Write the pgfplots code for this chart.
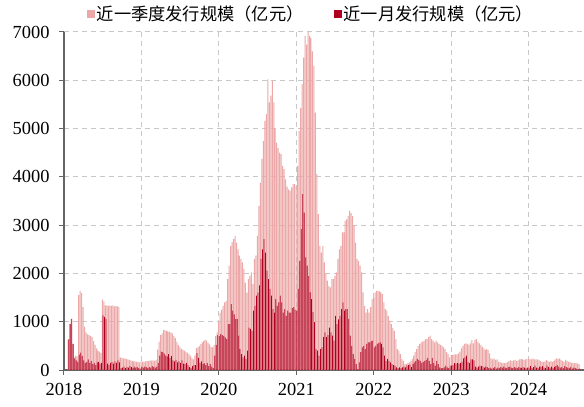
\documentclass[border=0pt]{standalone}
\usepackage{fontspec}
\setmainfont{Liberation Serif}
\newfontfamily\cjk{Noto Sans CJK SC}
\usepackage{pgfplots}
\usepackage{pgfplotstable}
\pgfplotsset{compat=1.18}
\definecolor{qpink}{RGB}{236,168,168}
\definecolor{mred}{RGB}{176,0,32}
\definecolor{gridgray}{RGB}{200,200,200}
\definecolor{axisgray}{RGB}{100,100,100}

\pgfplotstableread{
w q m
3 635 635
4 950 950
5 1060 1060
6 540 540
7 260 240
8 300 200
9 280 170
10 1550 320
11 1640 360
12 1590 290
13 1300 200
14 900 150
15 780 170
16 740 220
17 720 150
18 700 190
19 680 120
20 600 150
21 520 100
22 450 160
23 400 170
24 380 130
25 350 150
26 1460 1130
27 1420 1100
28 1340 1060
29 1340 130
30 1330 100
31 1340 150
32 1330 170
33 1340 130
34 1320 180
35 1330 150
36 1320 200
37 1300 160
38 260 40
39 250 50
40 240 70
41 240 40
42 230 60
43 220 50
44 210 80
45 200 60
46 190 40
47 180 70
48 180 50
49 170 60
50 170 40
51 160 30
}\dA

\pgfplotstableread{
w q m
0 180 60
1 175 50
2 170 70
3 180 60
4 190 40
5 185 60
6 200 50
7 195 80
8 200 60
9 190 50
10 210 70
11 420 150
12 590 300
13 720 380
14 760 370
15 830 340
16 820 300
17 810 280
18 800 330
19 790 250
20 780 290
21 760 200
22 700 180
23 660 210
24 590 160
25 520 180
26 480 140
27 440 200
28 420 130
29 400 120
30 380 150
31 360 100
32 330 60
33 300 40
34 250 80
35 220 100
36 300 100
37 460 350
38 470 250
39 500 150
40 540 180
41 570 120
42 600 140
43 630 100
44 610 150
45 560 80
46 530 120
47 480 70
48 470 40
49 520 300
50 700 520
51 780 720
}\dB

\pgfplotstableread{
w q m
0 1000 700
1 1190 745
2 1250 720
3 1330 700
4 1400 675
5 1430 640
6 1880 950
7 2160 950
8 2570 1365
9 2650 1230
10 2710 1150
11 2780 1055
12 2640 1060
13 2500 710
14 2370 430
15 2300 330
16 2230 260
17 2100 300
18 1810 230
19 1600 400
20 1880 880
21 1950 850
22 2020 810
23 1780 1230
24 2300 1330
25 2370 1540
26 2780 1600
27 3400 1750
28 3880 2300
29 4370 2500
30 4740 2710
31 5160 2430
32 5300 2060
33 6020 1880
34 5540 1680
35 5680 1540
36 5990 1260
37 5540 1190
38 5000 1470
39 4710 1330
40 4600 1400
41 4500 1540
42 4470 1400
43 4230 1190
44 4160 1260
45 3950 1120
46 3800 1230
47 3740 1190
48 3710 1190
49 3780 1280
50 3850 1300
51 3850 1250
}\dC

\pgfplotstableread{
w q m
0 3810 1230
1 4230 1680
2 4950 2260
3 5430 2920
4 5920 3640
5 6470 3260
6 6920 2330
7 6740 2160
8 7000 1950
9 6920 1610
10 6880 1470
11 6600 1200
12 6300 990
13 5330 430
14 4060 400
15 3230 300
16 2570 430
17 2430 470
18 2570 680
19 2230 780
20 2000 680
21 1850 720
22 1740 880
23 1710 780
24 1880 710
25 1880 610
26 1950 1120
27 2020 950
28 2300 1050
29 2500 1120
30 2570 1260
31 2850 1400
32 2850 1230
33 3090 1260
34 3120 1260
35 3190 1060
36 3300 710
37 3250 500
38 3190 330
39 2990 230
40 2640 120
41 2300 20
42 2260 160
43 2160 370
44 2020 470
45 1610 500
46 1330 430
47 1190 540
48 1260 570
49 1190 570
50 1300 600
51 1470 610
}\dD

\pgfplotstableread{
w q m
0 1500 470
1 1610 500
2 1640 540
3 1640 560
4 1630 570
5 1610 540
6 1570 470
7 1400 300
8 1260 190
9 1230 230
10 1120 190
11 1020 160
12 950 120
13 870 100
14 810 90
15 640 55
16 430 40
17 400 55
18 330 40
19 230 55
20 190 70
21 120 55
22 120 90
23 140 100
24 160 110
25 190 60
26 230 120
27 300 160
28 370 190
29 430 230
30 500 210
31 540 190
32 570 150
33 590 170
34 610 190
35 640 210
36 640 250
37 680 190
38 710 120
39 640 250
40 610 150
41 570 90
42 610 190
43 570 120
44 540 55
45 520 40
46 500 40
47 470 55
48 430 90
49 370 55
50 330 40
51 260 90
}\dE

\pgfplotstableread{
w q m
0 310 90
1 310 100
2 320 140
3 325 130
4 325 150
5 345 130
6 380 140
7 450 170
8 500 240
9 540 260
10 550 300
11 540 170
12 520 140
13 550 220
14 620 220
15 550 200
16 620 70
17 640 50
18 590 70
19 550 90
20 520 80
21 480 70
22 450 50
23 415 70
24 430 60
25 415 40
26 345 50
27 240 30
28 220 40
29 240 60
30 210 30
31 220 50
32 170 40
33 170 60
34 150 50
35 150 70
36 140 50
37 150 40
38 170 60
39 190 70
40 200 50
41 190 40
42 200 60
43 210 50
44 190 40
45 200 60
46 220 50
47 230 40
48 220 60
49 210 50
50 220 40
51 230 50
}\dF

\pgfplotstableread{
w q m
0 240 50
1 225 80
2 220 40
3 240 60
4 220 90
5 220 50
6 220 40
7 210 70
8 190 60
9 170 80
10 170 50
11 180 40
12 210 90
13 190 60
14 170 50
15 190 70
16 170 40
17 190 60
18 220 80
19 240 100
20 225 70
21 240 50
22 210 60
23 190 40
24 170 80
25 210 60
26 190 50
27 170 40
28 170 60
29 150 30
30 150 50
31 140 40
32 140 30
33 130 20
34 120 30
}\dG

\pgfplotsset{
  qbar/.style={ybar, bar width=1.0bp, bar shift=-0.25bp, fill=qpink, draw=none},
  mbar/.style={ybar, bar width=0.75bp, bar shift=0.37bp, fill=mred, draw=none},
}

\begin{document}
\begin{tikzpicture}
\path[use as bounding box] (-64bp,-37bp) rectangle (520bp,370bp);
\begin{axis}[
  at={(0,0)}, anchor=south west,
  scale only axis, width=520bp, height=338bp,
  xmin=2018, xmax=2024.714, ymin=0, ymax=7000,
  enlargelimits=false,
  xtick={2018,2019,...,2024},
  ytick={0,1000,...,7000},
  axis x line=bottom, axis y line=left,
  axis line style={-, draw=axisgray, line width=1.2bp},
  tick align=outside, major tick length=5bp,
  tick style={draw=axisgray, line width=1bp},
  xmajorgrids, ymajorgrids,
  major grid style={draw=gridgray, line width=1bp, dash pattern=on 5bp off 4bp},
  ticklabel style={font=\fontsize{18.5}{20}\selectfont},
  yticklabel style={xshift=-6bp},
  xticklabel style={yshift=-5bp},
  /pgf/number format/assume math mode=true,
  /pgf/number format/1000 sep={},
  legend columns=2,
  legend cell align=left,
  legend style={at={(0.475,1.053)}, anchor=center, draw=none, fill=none,
    font=\cjk\fontsize{17.3}{19}\selectfont,
    /tikz/every even column/.append style={column sep=28bp}},
]
\addplot[qbar, legend image code/.code={\fill[qpink] (0bp,-4bp) rectangle (8bp,4bp);}]
  table[x expr=2018+\thisrow{w}/52, y=q]{\dA};
\addlegendentry{近一季度发行规模（亿元）}
\addplot[mbar, legend image code/.code={\fill[mred] (0bp,-4bp) rectangle (8bp,4bp);}]
  table[x expr=2018+\thisrow{w}/52, y=m]{\dA};
\addlegendentry{近一月发行规模（亿元）}
\addplot[qbar, forget plot] table[x expr=2019+\thisrow{w}/52, y=q]{\dB};
\addplot[mbar, forget plot] table[x expr=2019+\thisrow{w}/52, y=m]{\dB};
\addplot[qbar, forget plot] table[x expr=2020+\thisrow{w}/52, y=q]{\dC};
\addplot[mbar, forget plot] table[x expr=2020+\thisrow{w}/52, y=m]{\dC};
\addplot[qbar, forget plot] table[x expr=2021+\thisrow{w}/52, y=q]{\dD};
\addplot[mbar, forget plot] table[x expr=2021+\thisrow{w}/52, y=m]{\dD};
\addplot[qbar, forget plot] table[x expr=2022+\thisrow{w}/52, y=q]{\dE};
\addplot[mbar, forget plot] table[x expr=2022+\thisrow{w}/52, y=m]{\dE};
\addplot[qbar, forget plot] table[x expr=2023+\thisrow{w}/52, y=q]{\dF};
\addplot[mbar, forget plot] table[x expr=2023+\thisrow{w}/52, y=m]{\dF};
\addplot[qbar, forget plot] table[x expr=2024+\thisrow{w}/52, y=q]{\dG};
\addplot[mbar, forget plot] table[x expr=2024+\thisrow{w}/52, y=m]{\dG};
\end{axis}
\end{tikzpicture}
\end{document}
